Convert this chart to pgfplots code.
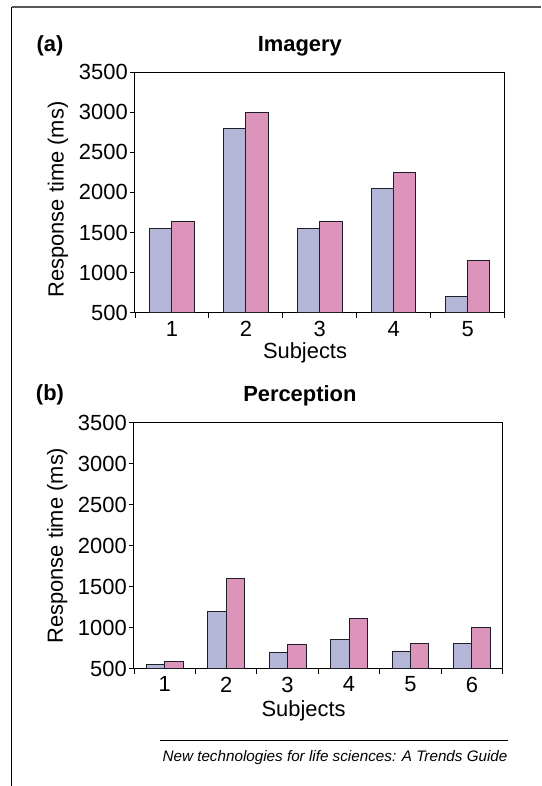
\documentclass[border=0pt]{standalone}
\usepackage{pgfplots}
\pgfplotsset{compat=1.18}
\usepackage{fontspec}
\setmainfont{Liberation Sans}
\definecolor{barblue}{RGB}{180,182,216}
\definecolor{barpink}{RGB}{221,148,186}
\definecolor{barline}{RGB}{30,30,40}
\newcommand{\bigf}{\fontsize{22}{26}\selectfont}
\pgfplotsset{
  myaxis/.style={
    scale only axis,
    font=\bigf,
    /pgf/number format/assume math mode=true,
    ybar=0pt, bar width=0.3,
    ymin=500, ymax=3500, ytick={500,1000,...,3500},
    tick pos=left, tick align=outside,
    major tick length=5bp, minor tick length=5bp,
    x tick style={draw=none},
    minor x tick style={draw=black, line width=0.8pt},
    y tick style={black, line width=0.8pt},
    axis line style={line width=0.9pt},
    yticklabel style={/pgf/number format/1000 sep={}, inner sep=2bp},
    xticklabel style={inner sep=3bp},
    ylabel={Response time (ms)},
    xlabel={Subjects},
    title style={font=\bigf\bfseries, anchor=center},
    every axis plot/.append style={draw=barline, line width=0.9pt},
  }
}
\begin{document}
\begin{tikzpicture}
\path (0bp,0bp) rectangle (541bp,786bp);
\draw[gray!70!black, line width=1.2pt] (12bp,779bp) -- (541bp,779bp);
\draw[black, line width=1pt] (12bp,0bp) -- (12bp,779bp);
\node[font=\bigf\bfseries] at (50bp,740bp) {(a)};
\node[font=\bigf\bfseries] at (50bp,391bp) {(b)};
\begin{axis}[myaxis, at={(135bp,473bp)}, anchor=south west,
  width=370bp, height=241bp,
  xmin=0.5, xmax=5.5, xtick={1,2,3,4,5},
  minor xtick={0.5,1.5,...,5.5},
  title={Imagery},
  title style={at={(axis description cs:0.446,1)}, yshift=20bp},
  xlabel style={at={(axis description cs:0.46,0)}, anchor=center, yshift=-40bp},
  ylabel style={at={(axis description cs:-0.208,0.47)}, anchor=center}]
\addplot[fill=barblue] coordinates {(1,1550) (2,2800) (3,1550) (4,2050) (5,700)};
\addplot[fill=barpink] coordinates {(1,1640) (2,3000) (3,1640) (4,2250) (5,1150)};
\end{axis}
\begin{axis}[myaxis, at={(134bp,117bp)}, anchor=south west,
  width=369bp, height=246bp,
  xmin=0.5, xmax=6.5, xtick={1,2,3,4,5,6},
  minor xtick={0.5,1.5,...,6.5},
  title={Perception},
  title style={at={(axis description cs:0.45,1)}, yshift=21bp},
  xlabel style={at={(axis description cs:0.46,0)}, anchor=center, yshift=-42bp},
  ylabel style={at={(axis description cs:-0.208,0.5)}, anchor=center}]
\addplot[fill=barblue] coordinates {(1,550) (2,1200) (3,700) (4,850) (5,715) (6,810)};
\addplot[fill=barpink] coordinates {(1,590) (2,1595) (3,790) (4,1110) (5,810) (6,1000)};
\end{axis}
\draw[black, line width=0.6pt] (160bp,45bp) -- (508bp,45bp);
\node[anchor=base east, font=\fontsize{15.3}{18}\selectfont\itshape, inner sep=0pt] at (508bp,24bp) {New technologies for life sciences: A Trends Guide};
\end{tikzpicture}
\end{document}
